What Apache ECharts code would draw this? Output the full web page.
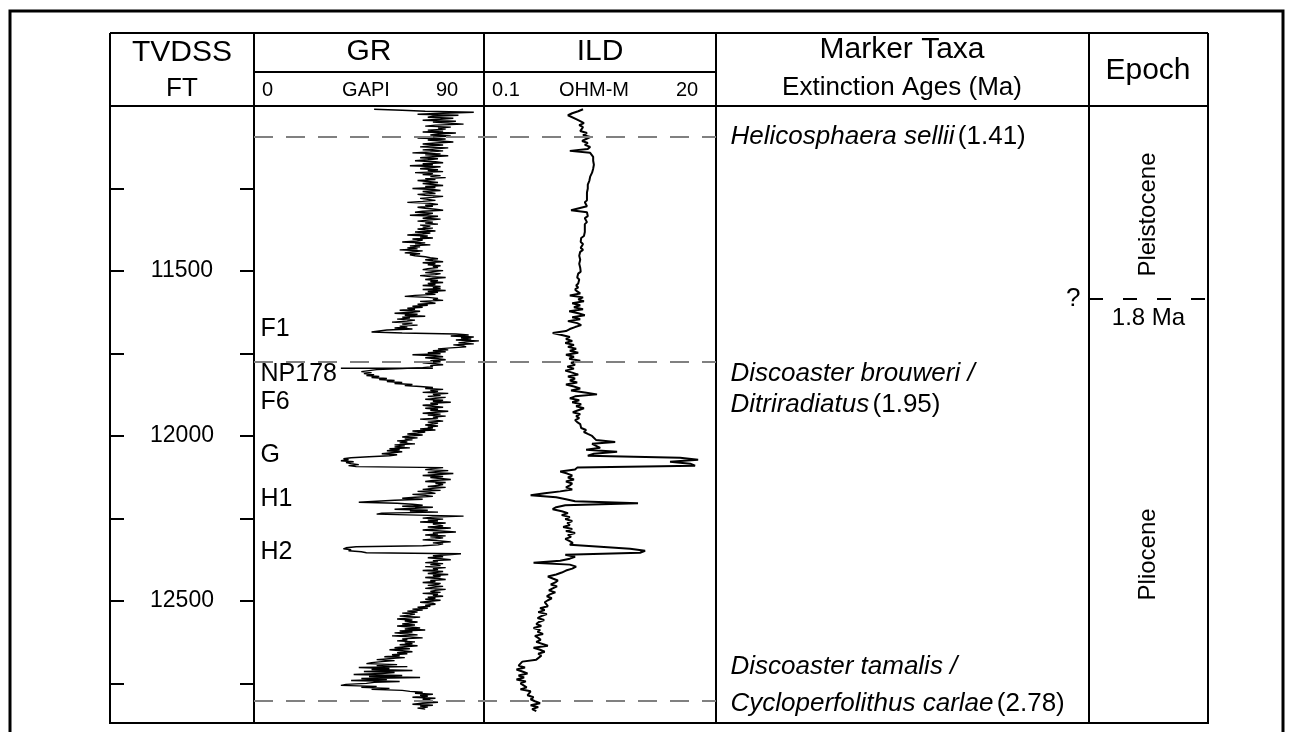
<!DOCTYPE html>
<html>
<head>
<meta charset="utf-8">
<script src="https://cdn.jsdelivr.net/npm/echarts@6/dist/echarts.min.js"></script>
<style>
  html, body { margin: 0; padding: 0; background: #fff; }
  #chart { width: 1293px; height: 732px; }
</style>
</head>
<body>
<div id="chart"></div>
<script>
// ---- depth scale (TVDSS, ft) ----
const depthMin = 11000;
const depthMax = 12870;
const depthTickStep = 250;
const depthLabels = [11500, 12000, 12500];

// ---- GR log (GAPI), one sample every 3 ft from 11010 ft ----
const grTop = 11010;
const grStep = 3;
const grValues = [
  47, 58, 67, 86, 74, 64, 80, 70, 68, 78, 73, 66, 79, 70, 76, 82, 71, 67, 77, 72,
  75, 68, 74, 66, 79, 72, 69, 77, 70, 64, 75, 68, 73, 78, 71, 66, 74, 69, 65, 76,
  71, 66, 74, 69, 62, 73, 67, 76, 70, 65, 72, 68, 63, 71, 74, 66, 70, 61, 73, 68,
  65, 72, 68, 74, 63, 70, 66, 73, 69, 75, 67, 71, 64, 68, 72, 66, 70, 74, 67, 71,
  62, 70, 73, 66, 69, 71, 64, 67, 74, 70, 65, 68, 71, 66, 60, 69, 72, 67, 70, 64,
  67, 71, 74, 66, 63, 70, 68, 61, 72, 69, 66, 73, 68, 64, 70, 67, 72, 65, 69, 66,
  70, 64, 67, 71, 63, 69, 66, 60, 68, 65, 70, 62, 66, 64, 58, 67, 63, 69, 61, 65,
  60, 64, 57, 66, 62, 59, 65, 61, 63, 67, 69, 72, 67, 70, 74, 66, 71, 68, 73, 70,
  72, 68, 66, 74, 70, 67, 73, 71, 65, 69, 75, 70, 67, 72, 69, 74, 68, 71, 66, 73,
  70, 73, 66, 75, 68, 72, 67, 71, 63, 59, 68, 72, 70, 74, 65, 69, 71, 64, 68, 62,
  66, 60, 63, 57, 65, 62, 55, 64, 59, 67, 58, 61, 56, 63, 60, 54, 62, 58, 64, 57,
  60, 55, 62, 52, 49, 46, 58, 79, 84, 77, 86, 81, 85, 79, 88, 83, 80, 86, 78, 82,
  83, 77, 72, 76, 70, 75, 68, 73, 62, 71, 74, 67, 72, 75, 69, 73, 66, 71, 74, 69,
  70, 66, 58, 48, 45, 42, 46, 43, 47, 44, 49, 46, 52, 49, 55, 52, 58, 55, 62, 59,
  65, 70, 67, 74, 69, 72, 66, 76, 70, 73, 68, 75, 71, 67, 74, 70, 77, 69, 72, 66,
  70, 74, 67, 72, 69, 76, 71, 66, 73, 68, 75, 70, 72, 65, 71, 74, 68, 72, 70, 67,
  72, 68, 70, 65, 71, 62, 67, 64, 60, 66, 61, 58, 64, 59, 62, 56, 60, 57, 63, 55,
  59, 55, 61, 53, 57, 52, 58, 54, 50, 56, 53, 45, 38, 35, 37, 34, 39, 36, 38, 41,
  37, 40, 74, 70, 67, 76, 71, 68, 78, 72, 66, 74, 69, 73, 77, 70, 67, 75, 71, 74,
  72, 68, 75, 70, 66, 73, 64, 69, 71, 62, 67, 70, 63, 58, 66, 55, 48, 41, 56, 62,
  66, 58, 70, 63, 55, 68, 61, 72, 50, 48, 64, 82, 70, 66, 74, 68, 72, 65, 75, 70,
  70, 74, 68, 77, 71, 66, 73, 79, 70, 72, 67, 75, 69, 74, 71, 66, 73, 77, 70, 74,
  72, 66, 40, 36, 35, 38, 37, 42, 44, 81, 76, 70, 74, 68, 73, 77, 70, 72, 67, 74,
  69, 73, 67, 75, 70, 72, 66, 74, 71, 68, 76, 70, 73, 67, 72, 75, 69, 71, 66, 73,
  72, 68, 74, 70, 67, 75, 71, 69, 73, 66, 72, 70, 74, 68, 71, 67, 73, 69, 65, 70,
  71, 67, 69, 64, 68, 62, 66, 60, 64, 58, 63, 61, 57, 65, 60, 56, 62, 59, 64, 61,
  58, 63, 56, 61, 65, 59, 67, 57, 62, 55, 60, 64, 54, 61, 66, 58, 60, 56, 63, 59,
  62, 57, 64, 59, 55, 61, 53, 58, 62, 56, 60, 54, 57, 51, 59, 53, 48, 55, 50, 46,
  44, 56, 48, 60, 41, 53, 46, 62, 43, 55, 50, 39, 58, 45, 65, 42, 52, 38, 57, 47,
  44, 36, 34, 48, 42, 53, 46, 58, 61, 66, 63, 70, 65, 68, 62, 71, 66, 69, 64, 72,
  66, 62, 70, 65, 68, 64, 67
];

// ---- ILD log (ohm-m), one sample every 6 ft from 11010 ft ----
const ildTop = 11010;
const ildStep = 6;
const ildValues = [
  0.96, 0.86, 0.75, 0.68, 0.71, 0.82, 0.90, 0.98, 0.88, 0.96,
  1.00, 0.90, 1.05, 0.96, 1.13, 1.03, 0.94, 1.07, 1.00, 1.13,
  1.07, 0.71, 1.13, 1.18, 1.21, 1.16, 1.21, 1.18, 1.23, 1.21,
  1.21, 1.23, 1.18, 1.16, 1.13, 1.13, 1.11, 1.13, 1.07, 1.11,
  1.07, 1.11, 1.05, 1.03, 1.05, 1.07, 1.05, 1.00, 1.03, 1.05,
  1.05, 0.73, 1.05, 1.03, 1.07, 1.00, 1.03, 1.05, 1.00, 1.03,
  1.00, 0.98, 1.00, 0.96, 0.98, 0.92, 0.96, 0.91, 0.96, 0.92,
  0.91, 0.96, 0.90, 0.92, 0.88, 0.91, 0.90, 0.92, 0.88, 0.90,
  0.90, 0.88, 0.91, 0.86, 0.90, 0.84, 0.88, 0.91, 0.86, 0.82,
  0.86, 0.80, 0.84, 0.90, 0.71, 0.96, 0.86, 0.98, 0.75, 0.90,
  0.78, 0.96, 0.70, 0.86, 1.00, 0.75, 0.90, 0.68, 0.84, 0.92,
  0.80, 0.71, 0.65, 0.48, 0.59, 0.71, 0.65, 0.75, 0.64, 0.78,
  0.68, 0.82, 0.71, 0.86, 0.65, 0.78, 0.70, 0.90, 0.73, 0.80,
  0.67, 0.78, 0.64, 0.75, 0.86, 0.68, 0.80, 0.71, 0.84, 0.65,
  0.78, 0.90, 0.73, 1.00, 1.32, 0.80, 0.71, 0.88, 0.75, 0.92,
  0.82, 0.98, 0.86, 0.76, 0.90, 0.82, 0.88, 0.80, 0.84, 0.90,
  0.86, 0.92, 1.03, 0.98, 1.07, 1.18, 1.13, 1.29, 2.00, 1.18,
  1.13, 1.42, 1.03, 2.09, 1.23, 1.07, 8.8, 13.3, 7.0, 11.1,
  12.4, 0.84, 0.80, 0.57, 0.67, 0.75, 0.68, 0.78, 0.65, 0.75,
  0.71, 0.65, 0.75, 0.57, 0.40, 0.29, 0.52, 0.65, 0.80, 3.37,
  0.64, 0.52, 0.48, 0.59, 0.68, 0.59, 0.71, 0.64, 0.75, 0.67,
  0.71, 0.61, 0.75, 0.65, 0.80, 0.68, 0.73, 0.64, 0.70, 0.76,
  0.71, 1.42, 2.81, 3.96, 3.53, 0.64, 0.80, 0.71, 0.57, 0.31,
  0.71, 0.82, 0.75, 0.65, 0.59, 0.52, 0.43, 0.48, 0.54, 0.51,
  0.46, 0.53, 0.48, 0.44, 0.51, 0.45, 0.42, 0.47, 0.43, 0.40,
  0.385, 0.43, 0.36, 0.40, 0.345, 0.42, 0.37, 0.34, 0.395, 0.35,
  0.33, 0.37, 0.31, 0.36, 0.34, 0.385, 0.32, 0.345, 0.365, 0.33,
  0.34, 0.43, 0.31, 0.36, 0.40, 0.345, 0.37, 0.36, 0.33, 0.24,
  0.23, 0.22, 0.255, 0.21, 0.24, 0.27, 0.22, 0.25, 0.21, 0.26,
  0.23, 0.22, 0.265, 0.23, 0.29, 0.30, 0.27, 0.31, 0.29, 0.32,
  0.36, 0.29, 0.345, 0.30, 0.33
];

// ---- log track scales ----
const grRange = [0, 90];
const ildRange = [0.1, 20];

// ---- picked sand tops annotated on the GR track ----
const zoneNames = ['F1', 'NP178', 'F6', 'G', 'H1', 'H2'];
const zoneDepths = [11677, 11814, 11898, 12059, 12192, 12353];
const leaderGR = [34, 70];       // NP178 leader line, GAPI
const leaderDepth = 11795;

// ---- nannofossil extinction markers ----
const markerSpecies = [
  ['Helicosphaera sellii'],
  ['Discoaster brouweri /', 'Ditriradiatus'],
  ['Discoaster tamalis /', 'Cycloperfolithus carlae']
];
const markerAges = ['1.41', '1.95', '2.78'];
const markerDepths = [11092, 11774, 12804];

// ---- epochs ----
const epochNames = ['Pleistocene', 'Pliocene'];
const epochLabelDepths = [11329, 12359];
const epochBoundaryDepth = 11583;
const epochBoundaryLabel = '1.8 Ma';
const epochBoundaryNote = '?';

// ------------------------------------------------------------------
const FONT = "'Liberation Sans', Arial, Helvetica, sans-serif";
const TOP = 106, BOTTOM = 9;
const cols = { depth: [110, 144], gr: [254, 230], ild: [484, 232], taxa: [716, 373], epoch: [1089, 119] };

const grData = grValues.map((v, i) => [v, grTop + i * grStep]);
const ildData = ildValues.map((v, i) => [v, ildTop + i * ildStep]);

function grid(c, show) {
  return { left: c[0], width: c[1], top: TOP, bottom: BOTTOM, show: show,
           borderColor: '#000', borderWidth: 2, backgroundColor: 'transparent', containLabel: false };
}
function depthAxis(gi, extra) {
  return Object.assign({
    gridIndex: gi, type: 'value', inverse: true, min: depthMin, max: depthMax, interval: depthTickStep,
    show: false, axisLine: { show: false }, splitLine: { show: false }
  }, extra || {});
}
function hiddenX(gi, extra) {
  return Object.assign({ gridIndex: gi, type: 'value', min: 0, max: 1, show: false, splitLine: { show: false } }, extra || {});
}
const tickStyle = { show: true, inside: true, length: 14, lineStyle: { color: '#000', width: 2 } };

// invisible anchor points that only carry text labels
const anchorItem = { color: 'rgba(0,0,0,0)', opacity: 1, borderWidth: 0 };
function textLabel(extra) {
  return Object.assign({ show: true, color: '#000', opacity: 1, fontFamily: FONT, textBorderWidth: 0 }, extra);
}

const taxaItems = markerSpecies.map((lines, k) => {
  let txt;
  if (lines.length === 1) {
    txt = '{i|' + lines[0] + '} {n|(' + markerAges[k] + ')}';
  } else {
    txt = '{i|' + lines[0] + '}\n{i|' + lines[1] + '} {n|(' + markerAges[k] + ')}';
  }
  const offs = [[0, 0], [0, 28], [0, -16]][k];
  const lh = [31, 31, 37][k];
  return {
    value: [0, markerDepths[k]],
    label: {
      formatter: txt, offset: offs,
      rich: {
        i: { fontStyle: 'italic', fontSize: 26, fontFamily: FONT, color: '#000', lineHeight: lh },
        n: { fontSize: 26, fontFamily: FONT, color: '#000', lineHeight: lh }
      }
    }
  };
});

const hdr = [];
function hline(x1, y1, x2, y2) {
  hdr.push({ type: 'line', shape: { x1, y1, x2, y2 }, style: { stroke: '#000', lineWidth: 2 }, silent: true });
}
function htext(t, x, y, size, align) {
  hdr.push({ type: 'text', x: x, y: y, silent: true,
    style: { text: t, fontSize: size, fontFamily: FONT, fill: '#000',
             align: align || 'center', verticalAlign: 'middle',
             textAlign: align || 'center', textVerticalAlign: 'middle' } });
}
// outer frame
hdr.push({ type: 'rect', shape: { x: 10, y: 11, width: 1273, height: 760 }, style: { fill: 'none', stroke: '#000', lineWidth: 3 }, silent: true });
// header cells
hline(110, 33, 1208, 33);
hline(110, 106, 1208, 106);
[110, 254, 484, 716, 1089, 1208].forEach(x => hline(x, 33, x, 106));
hline(254, 72, 716, 72);
htext('TVDSS', 182, 53, 30);
htext('FT', 182, 89, 26);
htext('GR', 369, 52, 30);
htext('0', 262, 90, 20, 'left');
htext('GAPI', 366, 90, 20);
htext('90', 447, 90, 20);
htext('ILD', 600, 52, 30);
htext('0.1', 506, 90, 20);
htext('OHM-M', 594, 90, 20);
htext('20', 687, 90, 20);
htext('Marker Taxa', 902, 50, 30);
htext('Extinction Ages (Ma)', 902, 88, 26);
htext('Epoch', 1148, 71, 30);

const option = {
  animation: false,
  backgroundColor: '#fff',
  grid: [
    grid(cols.depth, true),
    grid(cols.gr, true),
    grid(cols.ild, true),
    grid(cols.taxa, true),
    grid(cols.epoch, true),
    grid([254, 462], false)
  ],
  xAxis: [
    hiddenX(0),
    { gridIndex: 1, type: 'value', min: grRange[0], max: grRange[1], show: false, splitLine: { show: false } },
    { gridIndex: 2, type: 'log', logBase: 10, min: ildRange[0], max: ildRange[1], show: false, splitLine: { show: false } },
    hiddenX(3),
    hiddenX(4),
    hiddenX(5)
  ],
  yAxis: [
    depthAxis(0, {
      show: true, position: 'left', axisTick: tickStyle,
      axisLabel: { show: true, inside: true, margin: 72, align: 'center', fontSize: 23, fontFamily: FONT, color: '#000',
                   formatter: v => depthLabels.indexOf(v) >= 0 ? String(v) : '' }
    }),
    depthAxis(0, { show: true, position: 'right', axisTick: tickStyle, axisLabel: { show: false } }),
    depthAxis(1),
    depthAxis(2),
    depthAxis(3),
    depthAxis(4),
    depthAxis(5)
  ],
  series: [
    {
      // dashed marker correlation lines across both log tracks
      type: 'line', xAxisIndex: 5, yAxisIndex: 6, data: [[0, depthMin]], showSymbol: false, z: 1,
      lineStyle: { width: 0 },
      markLine: {
        silent: true, symbol: ['none', 'none'], label: { show: false },
        lineStyle: { color: '#808080', width: 2, type: [19, 13] },
        data: markerDepths.map(d => ({ yAxis: d }))
      }
    },
    {
      type: 'line', name: 'GR', xAxisIndex: 1, yAxisIndex: 2, data: grData, showSymbol: false, z: 3,
      lineStyle: { color: '#000', width: 1.4 }, sampling: null
    },
    {
      type: 'line', name: 'NP178 leader', xAxisIndex: 1, yAxisIndex: 2, showSymbol: false, z: 3,
      data: leaderGR.map(v => [v, leaderDepth]), lineStyle: { color: '#000', width: 1.5 }
    },
    {
      type: 'scatter', xAxisIndex: 1, yAxisIndex: 2, symbolSize: 1, z: 4, itemStyle: anchorItem,
      data: zoneNames.map((n, i) => ({ value: [0, zoneDepths[i]], name: n })),
      label: textLabel({ position: 'right', distance: 6, formatter: p => p.name, fontSize: 25 })
    },
    {
      type: 'line', name: 'ILD', xAxisIndex: 2, yAxisIndex: 3, data: ildData, showSymbol: false, z: 3,
      lineStyle: { color: '#000', width: 2 }
    },
    {
      type: 'scatter', xAxisIndex: 3, yAxisIndex: 4, symbolSize: 1, z: 4, itemStyle: anchorItem,
      label: textLabel({ position: 'right', distance: 14, align: 'left' }),
      data: taxaItems
    },
    {
      type: 'scatter', xAxisIndex: 3, yAxisIndex: 4, symbolSize: 1, z: 4, itemStyle: anchorItem,
      data: [{ value: [1, epochBoundaryDepth], name: epochBoundaryNote }],
      label: textLabel({ position: 'left', distance: 8, formatter: p => p.name, fontSize: 26 })
    },
    {
      type: 'scatter', xAxisIndex: 4, yAxisIndex: 5, symbolSize: 1, z: 4, itemStyle: anchorItem,
      data: epochNames.map((n, i) => ({ value: [0.5, epochLabelDepths[i]], name: n })),
      label: textLabel({ position: 'inside', rotate: 90, formatter: p => p.name, fontSize: 24 }),
      markLine: {
        silent: true, symbol: ['none', 'none'], label: { show: false },
        lineStyle: { color: '#000', width: 2, type: [14, 20] },
        data: [{ yAxis: epochBoundaryDepth }]
      }
    },
    {
      type: 'scatter', xAxisIndex: 4, yAxisIndex: 5, symbolSize: 1, z: 4, itemStyle: anchorItem,
      data: [{ value: [0.5, epochBoundaryDepth], name: epochBoundaryLabel }],
      label: textLabel({ position: 'bottom', distance: 8, formatter: p => p.name, fontSize: 24 })
    }
  ],
  graphic: hdr
};

const chart = echarts.init(document.getElementById('chart'), null, { renderer: 'canvas' });
chart.setOption(option);
</script>
</body>
</html>
